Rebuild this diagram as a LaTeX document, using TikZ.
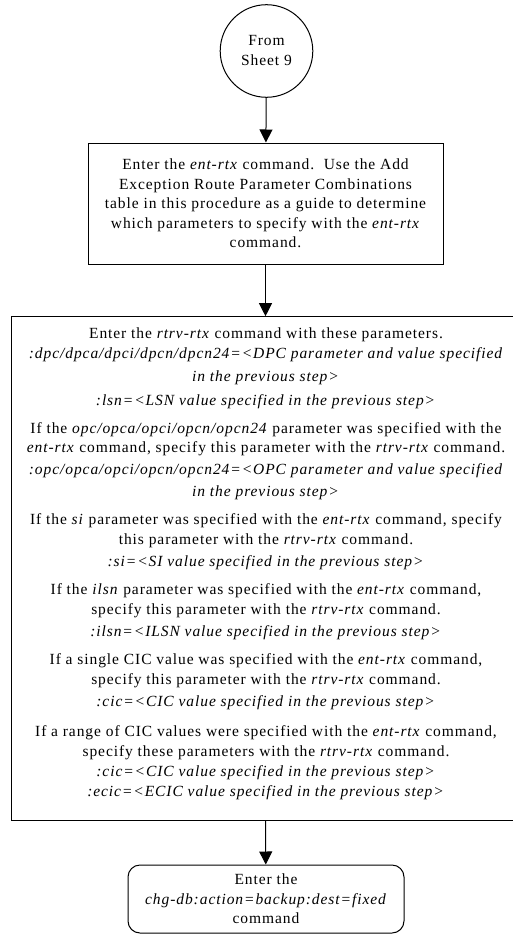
\documentclass[tikz,border=0pt]{standalone}
\usepackage{fontspec}
\setmainfont{Liberation Serif}[LetterSpace=6]
\usetikzlibrary{arrows.meta}
\tikzset{
  txt/.style={align=center, inner sep=0pt, font=\fontsize{15.5}{19.5}\selectfont},
  frame/.style={draw, line width=1pt, rectangle, inner sep=0pt},
  startc/.style={draw, line width=1pt, circle, minimum size=92.6pt, inner sep=0pt, txt, font=\fontsize{15.5}{20}\selectfont},
  arr/.style={line width=1pt, -{Triangle[length=13pt,width=13pt]}}
}
\begin{document}
\begin{tikzpicture}[x=1pt,y=-1pt]
\useasboundingbox (0,0) rectangle (512,934);
\node[startc] (start) at (266.5,51) {From\\Sheet 9};
\node[frame, txt, minimum width=355pt, minimum height=121pt] (enter) at (265.5,203.5)
 {Enter the \textit{ent-rtx} command.\ \ Use the Add\\
  Exception Route Parameter Combinations\\
  table in this procedure as a guide to determine\\
  which parameters to specify with the \textit{ent-rtx}\\
  command.};
\node[frame, minimum width=510pt, minimum height=504pt] (rtrv) at (266,568.7) {};
\node[txt, font=\fontsize{15.5}{20}\selectfont] (rtrvtext) at (266,563.5)
 {Enter the \textit{rtrv-rtx} command with these parameters.\\
  \textit{:dpc/dpca/dpci/dpcn/dpcn24=<DPC parameter and value specified}\\[3pt]
  \textit{in the previous step>}\\[4pt]
  \textit{:lsn=<LSN value specified in the previous step>}\\[8pt]
  If the \textit{opc/opca/opci/opcn/opcn24} parameter was specified with the\\[-1pt]
  \textit{ent-rtx} command, specify this parameter with the \textit{rtrv-rtx} command.\\[2pt]
  \textit{:opc/opca/opci/opcn/opcn24=<OPC parameter and value specified}\\[2pt]
  \textit{in the previous step>}\\[8pt]
  If the \textit{si} parameter was specified with the \textit{ent-rtx} command, specify\\
  this parameter with the \textit{rtrv-rtx} command.\\[2pt]
  \textit{:si=<SI value specified in the previous step>}\\[8pt]
  If the \textit{ilsn} parameter was specified with the \textit{ent-rtx} command,\\
  specify this parameter with the \textit{rtrv-rtx} command.\\[2pt]
  \textit{:ilsn=<ILSN value specified in the previous step>}\\[8pt]
  If a single CIC value was specified with the \textit{ent-rtx} command,\\
  specify this parameter with the \textit{rtrv-rtx} command.\\[2pt]
  \textit{:cic=<CIC value specified in the previous step>}\\[10pt]
  If a range of CIC values were specified with the \textit{ent-rtx} command,\\
  specify these parameters with the \textit{rtrv-rtx} command.\\
  \textit{:cic=<CIC value specified in the previous step>}\\
  \textit{:ecic=<ECIC value specified in the previous step>}};
\node[frame, txt, rounded corners=12pt, minimum width=276pt, minimum height=68pt, font=\fontsize{15.5}{19.5}\selectfont] (chg) at (266,899)
 {Enter the\\
  \textit{chg-db:action=backup:dest=fixed}\\
  command};
\draw[arr] (start) -- (enter);
\draw[arr] (enter) -- (rtrv.north -| enter.south);
\draw[arr] (rtrv.south -| enter.south) -- (chg);
\end{tikzpicture}
\end{document}
